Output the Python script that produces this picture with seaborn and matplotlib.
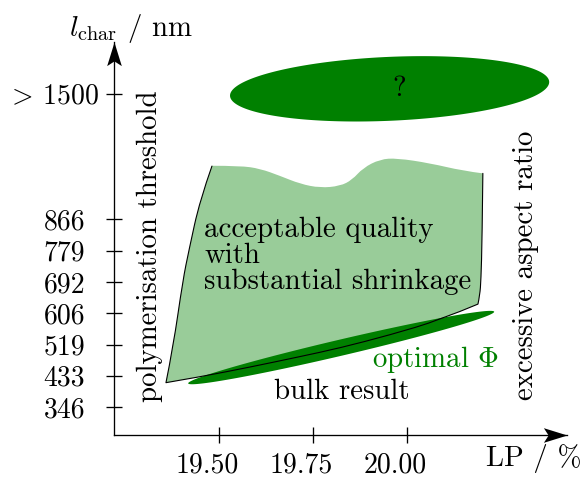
import numpy as np
import matplotlib
matplotlib.use("Agg")
import matplotlib.pyplot as plt
from matplotlib.path import Path
from matplotlib.patches import PathPatch
from matplotlib.transforms import ScaledTranslation
import seaborn as sns

# ---- axes ----------------------------------------------------------------
lp_ticks = [19.50, 19.75, 20.00]
lp_tick_labels = ["19.50", "19.75", "20.00"]
lchar_ticks = [346, 433, 519, 606, 692, 779, 866]
lchar_tick_labels = ["346", "433", "519", "606", "692", "779", "866"]
lchar_overflow_pos = 1212          # broken-scale position of the "> 1500" tick
lchar_overflow_label = r"$>\,$1500"
lp_limits = (19.2213, 20.4243)
lchar_limits = (269.5, 1354.8)

# ---- acceptable-quality region (LP %, l_char nm) ----------------------------
# outlined sides: left (top -> bottom), bottom (left -> right), right (bottom -> top)
left_lp = [19.482, 19.450, 19.421, 19.405, 19.379, 19.360]
left_nm = [1012, 918, 780, 698, 512, 414]
bottom_lp = [19.360, 19.450, 19.583, 19.716, 19.822, 19.955, 20.087, 20.188]
bottom_nm = [414, 430, 457, 486, 510, 546, 587, 631]
right_lp = [20.188, 20.193, 20.196, 20.199, 20.201]
right_nm = [631, 656, 698, 808, 992]
# free top edge (right -> left)
top_lp = [20.201, 20.148, 20.061, 19.973, 19.928, 19.883, 19.854, 19.822,
          19.769, 19.716, 19.663, 19.610, 19.557, 19.482]
top_nm = [992, 999, 1020, 1034, 1031, 1007, 974, 957, 952, 963, 985, 1005, 1013, 1013]

# ---- elliptic regions: major-axis end points and half width (pt) ----------
optimal_ends = [(19.419, 412), (20.231, 610)]
optimal_halfwidth = 5.8
unknown_ends = [(19.530, 1206), (20.377, 1245)]
unknown_halfwidth = 23.0

# ---- labels ----------------------------------------------------------------
quality_lines = ["acceptable quality", "with", "substantial shrinkage"]
quality_x = 19.461
quality_baselines = [815, 744, 672]

LIGHT = "#99cc99"
DARK = "#008000"
FS = 20.8       # annotation text
FS_TICK = 20

sns.set_theme(style="ticks")
plt.rcParams["font.family"] = "cmr10"
plt.rcParams["mathtext.fontset"] = "cm"
plt.rcParams["axes.unicode_minus"] = False
plt.rcParams["axes.linewidth"] = 0.95

fig = plt.figure(figsize=(5.81, 4.80), dpi=100)
fig.patch.set_facecolor("white")
ax = fig.add_axes([113.7 / 581, 45 / 480, 453.3 / 581, 393 / 480])
ax.set_xlim(*lp_limits)
ax.set_ylim(*lchar_limits)
ax.set_facecolor("white")
sns.despine(ax=ax)
for s in ("left", "bottom"):
    ax.spines[s].set_color("black")
    ax.spines[s].set_linewidth(0.95)


def smooth(xs, ys):
    """Quadratic-spline path pieces through the first/last point."""
    pts = list(zip(xs, ys))
    verts, codes = [], []
    if len(pts) == 2:
        return [pts[1]], [Path.LINETO]
    for i in range(1, len(pts) - 2):
        mid = ((pts[i][0] + pts[i + 1][0]) / 2, (pts[i][1] + pts[i + 1][1]) / 2)
        verts += [pts[i], mid]
        codes += [Path.CURVE3, Path.CURVE3]
    verts += [pts[-2], pts[-1]]
    codes += [Path.CURVE3, Path.CURVE3]
    return verts, codes


def build_path(segments, close=False):
    verts = [(segments[0][0][0], segments[0][1][0])]
    codes = [Path.MOVETO]
    for xs, ys in segments:
        v, c = smooth(xs, ys)
        verts += v
        codes += c
    if close:
        verts.append(verts[0])
        codes.append(Path.CLOSEPOLY)
    return Path(verts, codes)


outline = [(left_lp, left_nm), (bottom_lp, bottom_nm), (right_lp, right_nm)]
region_path = build_path(outline + [(top_lp, top_nm)], close=True)
outline_path = build_path(outline)

ax.add_patch(PathPatch(region_path, facecolor=LIGHT, edgecolor="none", zorder=1))


def ellipse_points(ends, halfwidth_pt):
    T = ax.transData
    a0, a1 = T.transform(np.array(ends, dtype=float))
    c = (a0 + a1) / 2
    d = a1 - a0
    a = np.hypot(*d) / 2
    th = np.arctan2(d[1], d[0])
    b = halfwidth_pt * fig.dpi / 72
    t = np.linspace(0, 2 * np.pi, 300)
    px = c[0] + a * np.cos(t) * np.cos(th) - b * np.sin(t) * np.sin(th)
    py = c[1] + a * np.cos(t) * np.sin(th) + b * np.sin(t) * np.cos(th)
    return T.inverted().transform(np.column_stack([px, py]))


opt = ellipse_points(optimal_ends, optimal_halfwidth)
ax.fill(opt[:, 0], opt[:, 1], color=DARK, lw=0, zorder=2)
unk = ellipse_points(unknown_ends, unknown_halfwidth)
ax.fill(unk[:, 0], unk[:, 1], color=DARK, lw=0, zorder=2)

ax.add_patch(PathPatch(outline_path, facecolor="none", edgecolor="black",
                       lw=0.8, zorder=3, capstyle="round", joinstyle="round"))

# ticks
ax.set_xticks(lp_ticks, labels=lp_tick_labels)
ax.set_yticks(lchar_ticks, labels=lchar_tick_labels)
ax.set_yticks([lchar_overflow_pos], labels=[lchar_overflow_label], minor=True)
ax.tick_params(axis="both", which="both", direction="inout", length=11,
               width=0.95, color="black", labelsize=FS_TICK, labelcolor="black")
ax.tick_params(axis="y", which="major", pad=15)
ax.tick_params(axis="y", which="minor", pad=5)
ax.tick_params(axis="x", which="major", pad=7)
ax.tick_params(axis="x", which="minor", bottom=False)

# x tick labels sit slightly left of their ticks
shift = ScaledTranslation(-12 / 100, 0, fig.dpi_scale_trans)
for lab in ax.get_xticklabels():
    lab.set_transform(lab.get_transform() + shift)

# arrow heads at the axis ends
head_x = Path([(0, 0), (-1, 0.31), (-0.8, 0), (-1, -0.31), (0, 0)],
              [Path.MOVETO, Path.LINETO, Path.LINETO, Path.LINETO, Path.CLOSEPOLY])
head_y = Path([(0, 0), (0.31, -1), (0, -0.8), (-0.31, -1), (0, 0)],
              [Path.MOVETO, Path.LINETO, Path.LINETO, Path.LINETO, Path.CLOSEPOLY])
ax.plot([lp_limits[1]], [lchar_limits[0]], marker=head_x, markersize=34,
        color="black", mew=0, clip_on=False, zorder=5)
ax.plot([lp_limits[0]], [lchar_limits[1]], marker=head_y, markersize=34,
        color="black", mew=0, clip_on=False, zorder=5)

# axis titles
ax.text(0.037, 1.0153, r"$l_{\mathrm{char}}$ / nm", transform=ax.transAxes,
        ha="center", va="baseline", fontsize=FS, color="black")
ax.text(0.9257, -0.0781, "LP / %", transform=ax.transAxes,
        ha="center", va="baseline", fontsize=FS, color="black")

# region annotations
for line, yb in zip(quality_lines, quality_baselines):
    ax.text(quality_x, yb, line, ha="left", va="baseline", fontsize=FS,
            color="black", zorder=6)
ax.text(19.826, 368, "bulk result", ha="center", va="baseline",
        fontsize=FS, color="black", zorder=6)
ax.text(20.076, 456, r"optimal $\Phi$", ha="center", va="baseline",
        fontsize=FS, color=DARK, zorder=6)
ax.text(19.979, 1206, "?", ha="center", va="baseline", fontsize=FS,
        color="black", zorder=6)
ax.text(19.318, 791, "polymerisation threshold", rotation=90, ha="center",
        va="center", fontsize=FS, color="black", zorder=6)
ax.text(20.316, 739, "excessive aspect ratio", rotation=90, ha="center",
        va="center", fontsize=FS, color="black", zorder=6)

fig.savefig("out.png", dpi=100, facecolor="white")
